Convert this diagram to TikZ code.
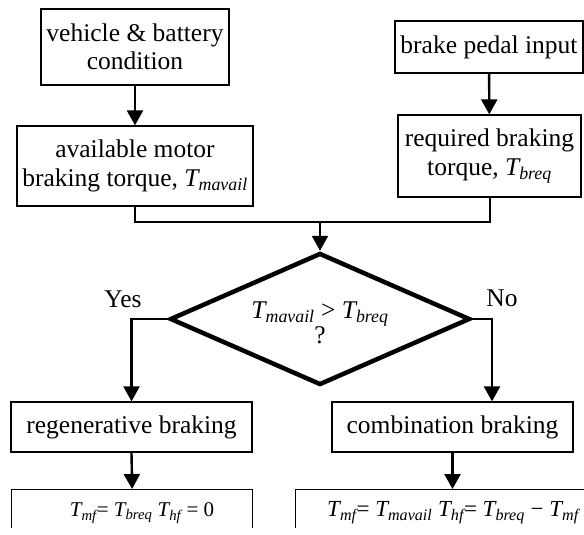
\documentclass[tikz,border=0pt]{standalone}
\usepackage{fontspec}
\setmainfont{Liberation Serif}
\usepackage{amsmath}
\usetikzlibrary{arrows.meta,shapes.geometric}
\newcommand{\Ts}[1]{$\textit{T}_{\textit{#1}}$}
\begin{document}
\begin{tikzpicture}[x=1pt,y=-1pt,
  txt/.style={font=\fontsize{25.5}{28.5}\selectfont, inner sep=0pt},
  box/.style={txt, draw, line width=1.3pt, align=center},
  flow/.style={line width=2.4pt, -{Triangle[width=16pt,length=15pt]}},
  joinline/.style={line width=2pt},
  decision/.style={draw, shape=diamond, line width=4.5pt, inner sep=0pt,
    minimum width=300pt, minimum height=132pt}]
\useasboundingbox (0,0) rectangle (584,535);

% top boxes
\node[box, minimum width=188pt, minimum height=76pt] (veh) at (135,47) {vehicle \& battery\\condition};
\node[box, minimum width=236pt, minimum height=80pt] (avail) at (135,166) {available motor\\braking torque, \Ts{mavail}};
\node[box, minimum width=188pt, minimum height=52pt] (pedal) at (489,47) {brake pedal input};
\node[box, minimum width=183pt, minimum height=82pt] (req) at (489.5,156) {required braking\\torque, \Ts{breq}};

% decision
\node[decision] (dec) at (320,319) {};
\node[txt, align=center, font=\fontsize{25.5}{25}\selectfont] (dectxt) at (320,323) {\Ts{mavail} \textgreater{} \Ts{breq}\\?};
\node[txt] (yes) at (123,299) {Yes};
\node[txt] (no) at (502,298) {No};

% middle boxes
\node[box, minimum width=241pt, minimum height=50pt] (regen) at (131.5,427) {regenerative braking};
\node[box, minimum width=241pt, minimum height=50pt] (comb) at (452.5,427) {combination braking};

% bottom boxes (cut by the page edge)
\begin{scope}
  \clip (0,0) rectangle (584,527);
  \node[draw, line width=1.3pt, inner sep=0pt, minimum width=241pt, minimum height=60pt, anchor=north west] (resA) at (11,489) {};
  \node[draw, line width=1.3pt, inner sep=0pt, minimum width=310pt, minimum height=60pt, anchor=north west] (resB) at (295,489) {};
\end{scope}
\node[txt, font=\fontsize{21}{24}\selectfont] (resAtxt) at (142,513) {\Ts{mf}= \Ts{breq} \Ts{hf} = 0};
\node[txt, font=\fontsize{23}{26}\selectfont] (resBtxt) at (453,513) {\Ts{mf}= \Ts{mavail} \Ts{hf}= \Ts{breq} − \Ts{mf}};

% connectors
\coordinate (merge) at (320,222);
\coordinate (noturn) at (492,319);
\coordinate (yesturn) at (131.5,319);
\draw[flow] (veh) -- (avail);
\draw[flow] (pedal) -- (req);
\draw[joinline] (avail.south) |- (merge);
\draw[joinline] (req.south) |- (merge);
\draw[flow] (merge) -- (dec.north);
\draw[flow] (dec.west) -- (yesturn) -- (regen.north);
\draw[flow] (dec.east) -- (noturn) -- (noturn |- comb.north);
\draw[flow] (regen.south) -- (resA.north);
\draw[flow] (comb.south) -- (comb.south |- resB.north);
\end{tikzpicture}
\end{document}
